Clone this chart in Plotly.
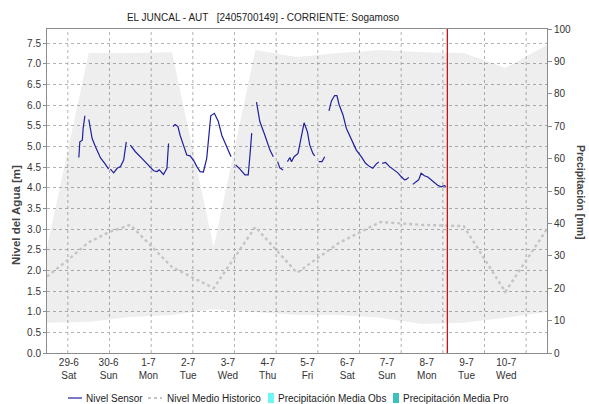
import pandas as pd
import plotly.graph_objects as go

# --- Nivel Sensor [m]; None marks a break in the record ---
sensor_time = [
    "2024-06-29 06:20", "2024-06-29 06:55", "2024-06-29 08:20", "2024-06-29 08:50", "2024-06-29 09:50", None,
    "2024-06-29 12:05", "2024-06-29 14:00", "2024-06-29 15:55", "2024-06-29 18:50", "2024-06-29 21:35",
    "2024-06-29 23:30", None,
    "2024-06-30 00:30", "2024-06-30 02:25", "2024-06-30 04:25", "2024-06-30 06:20", "2024-06-30 08:10",
    "2024-06-30 09:05", "2024-06-30 09:40", None,
    "2024-06-30 12:00", "2024-06-30 14:55", "2024-06-30 18:40", "2024-06-30 22:30", "2024-07-01 01:25",
    "2024-07-01 03:20", "2024-07-01 04:40", "2024-07-01 07:05", "2024-07-01 09:05", "2024-07-01 10:00", None,
    "2024-07-01 12:30", "2024-07-01 13:50", "2024-07-01 15:25", "2024-07-01 16:40", "2024-07-01 18:35",
    "2024-07-01 20:30", "2024-07-01 22:25", "2024-07-02 00:20", "2024-07-02 02:20", "2024-07-02 04:10",
    "2024-07-02 06:05", "2024-07-02 08:00", "2024-07-02 09:00", "2024-07-02 10:20", "2024-07-02 12:25",
    "2024-07-02 14:40", "2024-07-02 16:40", "2024-07-02 19:30", "2024-07-02 22:00", None,
    "2024-07-03 00:40", "2024-07-03 03:10", "2024-07-03 06:00", "2024-07-03 07:55", "2024-07-03 08:55",
    "2024-07-03 09:55", None,
    "2024-07-03 12:40", "2024-07-03 14:35", "2024-07-03 17:30", "2024-07-03 20:25", "2024-07-03 22:20", None,
    "2024-07-04 00:50", "2024-07-04 02:05", "2024-07-04 04:00", None,
    "2024-07-04 06:30", "2024-07-04 07:55", "2024-07-04 08:50", "2024-07-04 10:20", "2024-07-04 12:35",
    "2024-07-04 14:10", "2024-07-04 16:05", "2024-07-04 18:00", "2024-07-04 19:20", "2024-07-04 21:10",
    "2024-07-04 22:10", None,
    "2024-07-05 00:30", "2024-07-05 02:25", "2024-07-05 04:00", None,
    "2024-07-05 06:25", "2024-07-05 07:50", "2024-07-05 09:40", "2024-07-05 11:00", "2024-07-05 12:10",
    "2024-07-05 14:30", "2024-07-05 16:25", "2024-07-05 19:20", "2024-07-05 22:10", "2024-07-06 01:00",
    "2024-07-06 03:30", "2024-07-06 05:50", "2024-07-06 07:40", "2024-07-06 09:35", "2024-07-06 11:05", None,
    "2024-07-06 13:05", "2024-07-06 15:00", "2024-07-06 17:20", "2024-07-06 20:10", "2024-07-06 22:05",
    "2024-07-07 00:00", "2024-07-07 01:55", "2024-07-07 02:55", "2024-07-07 04:25", None,
    "2024-07-07 06:40", "2024-07-07 08:35", "2024-07-07 10:05", "2024-07-07 11:30", "2024-07-07 13:25",
    "2024-07-07 15:20", "2024-07-07 17:10", "2024-07-07 19:05", "2024-07-07 21:00", "2024-07-07 23:00",
    "2024-07-08 00:55", "2024-07-08 01:50",
]
sensor_level = [
    4.73, 5.11, 5.15, 5.44, 5.74, None,
    5.65, 5.19, 4.99, 4.72, 4.57, 4.45, None,
    4.45, 4.36, 4.47, 4.51, 4.67, 4.95, 5.11, None,
    5.03, 4.87, 4.71, 4.55, 4.41, 4.39, 4.43, 4.32, 4.47, 5.07, None,
    5.48, 5.53, 5.48, 5.27, 5.03, 4.79, 4.77, 4.67, 4.51, 4.39,
    4.38, 4.71, 5.15, 5.74, 5.80, 5.60, 5.27, 4.99, 4.75, None,
    4.55, 4.45, 4.31, 4.31, 4.79, 5.32, None,
    6.07, 5.60, 5.27, 4.91, 4.75, None,
    4.63, 4.48, 4.43, None,
    4.63, 4.73, 4.63, 4.75, 4.83, 5.15, 5.57, 5.35, 5.03, 4.83, 4.77, None,
    4.63, 4.63, 4.75, None,
    5.86, 6.10, 6.23, 6.23, 6.02, 5.76, 5.44, 5.15, 4.91, 4.75, 4.59, 4.51, 4.47, 4.57, 4.62, None,
    4.59, 4.61, 4.51, 4.43, 4.36, 4.27, 4.19, 4.20, 4.25, None,
    4.08, 4.14, 4.19, 4.35, 4.29, 4.26, 4.19, 4.14, 4.06, 4.02, 4.05, 4.03,
]

# --- Historic envelope (daily max / min) [m] ---
hist_time = [
    "2024-06-28 12:00", "2024-06-29 12:00", "2024-06-30 12:00", "2024-07-01 12:00", "2024-07-02 12:00",
    "2024-07-03 12:00", "2024-07-04 12:00", "2024-07-05 12:00", "2024-07-06 12:00", "2024-07-07 12:00",
    "2024-07-08 12:00", "2024-07-09 12:00", "2024-07-10 12:00",
]
hist_max = [2.56, 7.26, 7.26, 7.28, 2.56, 7.33, 7.16, 7.26, 7.33, 7.28, 7.26, 6.90, 7.45]
hist_min = [0.73, 0.75, 0.87, 0.92, 1.06, 0.99, 0.92, 0.92, 0.85, 0.70, 0.73, 0.85, 0.99]

# --- Nivel Medio Historico [m] ---
mean_time = [
    "2024-06-28 12:00", "2024-06-29 00:00", "2024-06-29 12:00", "2024-06-30 00:00", "2024-06-30 12:00",
    "2024-07-01 12:00", "2024-07-02 12:00", "2024-07-03 12:00", "2024-07-04 12:00", "2024-07-05 12:00",
    "2024-07-06 12:00", "2024-07-07 12:00", "2024-07-08 12:00", "2024-07-09 12:00", "2024-07-10 12:00",
]
mean_level = [1.85, 2.25, 2.68, 2.93, 3.10, 2.08, 1.57, 3.05, 1.94, 2.66, 3.17, 3.10, 3.07, 1.48, 3.00]

# --- Precipitation [mm] (daily, none recorded in this period) ---
precip_time = [
    "2024-06-29 12:00", "2024-06-30 12:00", "2024-07-01 12:00", "2024-07-02 12:00", "2024-07-03 12:00",
    "2024-07-04 12:00", "2024-07-05 12:00", "2024-07-06 12:00", "2024-07-07 12:00", "2024-07-08 12:00",
    "2024-07-09 12:00", "2024-07-10 12:00",
]
precip_obs = [0, 0, 0, 0, 0, 0, 0, 0, 0, 0, 0, 0]
precip_pro = [0, 0, 0, 0, 0, 0, 0, 0, 0, 0, 0, 0]

# --- Axis labelling ---
day_ticks = [
    "2024-06-29", "2024-06-30", "2024-07-01", "2024-07-02", "2024-07-03", "2024-07-04",
    "2024-07-05", "2024-07-06", "2024-07-07", "2024-07-08", "2024-07-09", "2024-07-10",
]
day_labels = ["29-6", "30-6", "1-7", "2-7", "3-7", "4-7", "5-7", "6-7", "7-7", "8-7", "9-7", "10-7"]
weekday_labels = ["Sat", "Sun", "Mon", "Tue", "Wed", "Thu", "Fri", "Sat", "Sun", "Mon", "Tue", "Wed"]
now_time = "2024-07-08 02:35"

x_range = ["2024-06-28 12:00", "2024-07-10 12:00"]
level_range = [0, 7.84]
precip_range = [0, 100]

FONT = "Liberation Sans, Arial, sans-serif"
GRID = "#b4b4b4"
AXIS = "#8c8c8c"
TXT = "#333333"
SENSOR_COLOR = "#1f1fa0"
MEAN_COLOR = "#c4c4c4"
OBS_COLOR = "#6cf6f6"
PRO_COLOR = "#3cc0c0"

W, H = 589, 404
ML, MR, MT, MB = 47, 42, 29, 51
PW, PH = W - ML - MR, H - MT - MB


def px(xp):
    return (xp - ML) / PW


def py(yp):
    return (H - MB - yp) / PH


# day labels are laid out on a slightly tighter pitch than the daily grid
start = pd.Timestamp(day_ticks[0])
label_pos = [start + pd.Timedelta(days=(0.024 + 0.9545 * i)) for i in range(len(day_labels))]

fig = go.Figure()

# historic envelope
fig.add_trace(go.Scatter(x=hist_time, y=hist_min, mode="lines", line=dict(width=0),
                         showlegend=False, hoverinfo="skip"))
fig.add_trace(go.Scatter(x=hist_time, y=hist_max, mode="lines", line=dict(width=0),
                         fill="tonexty", fillcolor="rgba(0,0,0,0.065)",
                         showlegend=False, hoverinfo="skip"))

fig.add_trace(go.Scatter(x=sensor_time, y=sensor_level, mode="lines", name="Nivel Sensor",
                         line=dict(color=SENSOR_COLOR, width=1.2), connectgaps=False))
fig.add_trace(go.Scatter(x=mean_time, y=mean_level, mode="lines", name="Nivel Medio Historico",
                         line=dict(color=MEAN_COLOR, width=2.4, dash="dot")))
fig.add_trace(go.Bar(x=precip_time, y=precip_obs, name="Precipitación Media Obs",
                     marker=dict(color=OBS_COLOR, line=dict(width=0)), yaxis="y2"))
fig.add_trace(go.Bar(x=precip_time, y=precip_pro, name="Precipitación Media Pro",
                     marker=dict(color=PRO_COLOR, line=dict(width=0)), yaxis="y2"))

# daily grid lines
for d in day_ticks:
    fig.add_shape(type="line", xref="x", yref="paper", x0=d, x1=d, y0=0, y1=1, layer="below",
                  line=dict(color=GRID, width=1, dash="dot"))

# current time marker
fig.add_shape(type="line", xref="x", yref="paper", x0=now_time, x1=now_time, y0=0, y1=1,
              line=dict(color="#c00000", width=1.2))

# compact single-row legend under the chart
legend_y = 398
legend_items = [
    ("Nivel Sensor", "line", SENSOR_COLOR, 68, 82, 84),
    ("Nivel Medio Historico", "dot", MEAN_COLOR, 148, 162, 165),
    ("Precipitación Media Obs", "box", OBS_COLOR, 268, 274, 276),
    ("Precipitación Media Pro", "box", PRO_COLOR, 393, 399, 401),
]
for label, kind, color, s0, s1, tx in legend_items:
    if kind == "box":
        fig.add_shape(type="rect", xref="paper", yref="paper",
                      x0=px(s0), x1=px(s1), y0=py(legend_y + 5), y1=py(legend_y - 5),
                      fillcolor=color, line=dict(width=0))
    else:
        fig.add_shape(type="line", xref="paper", yref="paper",
                      x0=px(s0), x1=px(s1), y0=py(legend_y), y1=py(legend_y),
                      line=dict(color=color, width=1.2 if kind == "line" else 2,
                                dash="solid" if kind == "line" else "dot"))
    fig.add_annotation(text=label, xref="paper", yref="paper", x=px(tx), y=py(legend_y),
                       xanchor="left", yanchor="middle", showarrow=False,
                       font=dict(size=10, color="#222222"))

fig.update_layout(
    width=W, height=H,
    margin=dict(l=ML, r=MR, t=MT, b=MB, autoexpand=False),
    paper_bgcolor="white", plot_bgcolor="white",
    font=dict(family=FONT, size=10, color=TXT),
    title=dict(text="EL JUNCAL - AUT\u00a0\u00a0\u00a0[2405700149] - CORRIENTE: Sogamoso",
               x=263 / W, xref="container", xanchor="center",
               y=1 - 17 / H, yref="container", yanchor="middle",
               font=dict(size=10, color="#222222")),
    showlegend=False,
    barmode="group",
    xaxis=dict(type="date", range=x_range,
               tickvals=label_pos,
               ticktext=[f"{d}<br>{w}" for d, w in zip(day_labels, weekday_labels)],
               ticks="", showgrid=False, tickfont=dict(size=10, color=TXT), tickangle=0,
               showline=True, linecolor=AXIS, linewidth=1, mirror=True, zeroline=False),
    yaxis=dict(range=level_range, dtick=0.5, tickformat=".1f",
               showgrid=True, gridcolor=GRID, griddash="dot", gridwidth=1,
               ticks="outside", ticklen=3, tickcolor=AXIS,
               showline=True, linecolor=AXIS, linewidth=1, zeroline=False,
               tickfont=dict(size=10, color=TXT)),
    yaxis2=dict(range=precip_range, dtick=10, overlaying="y", side="right",
                showgrid=False, zeroline=False, ticks="outside", ticklen=4, tickcolor=AXIS,
                showline=True, linecolor=AXIS, linewidth=1,
                tickfont=dict(size=10, color=TXT)),
)

fig.add_annotation(text="<b>Nivel del Agua [m]</b>", xref="paper", yref="paper",
                   x=px(16), y=py(215), textangle=-90, showarrow=False,
                   font=dict(size=11.5, color="#444444"), xanchor="center", yanchor="middle")
fig.add_annotation(text="<b>Precipitación [mm]</b>", xref="paper", yref="paper",
                   x=px(581), y=py(192), textangle=90, showarrow=False,
                   font=dict(size=10.5, color="#444444"), xanchor="center", yanchor="middle")

fig.write_html("out.html")
